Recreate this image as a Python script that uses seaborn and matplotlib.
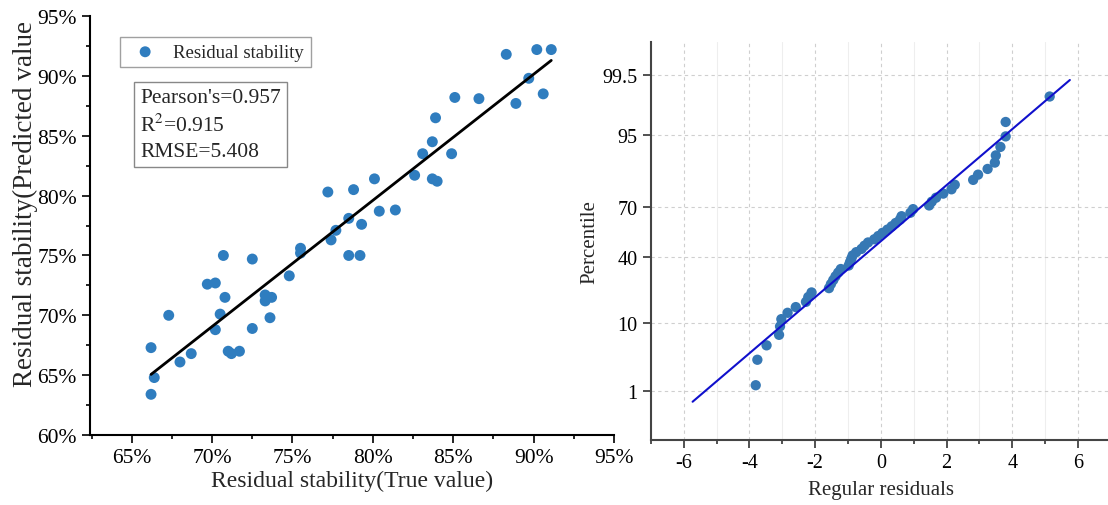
import numpy as np
import pandas as pd
import matplotlib
matplotlib.use("Agg")
import matplotlib.pyplot as plt
import seaborn as sns
from matplotlib.ticker import MultipleLocator, FuncFormatter
from statistics import NormalDist

# Left panel: true vs predicted residual stability (%)
true_vals = [88.3, 90.2, 91.1, 89.7, 90.6, 88.9, 85.1, 86.6, 83.9, 83.7,
             83.1, 84.9, 82.6, 83.7, 84.0, 80.1, 77.2, 78.8, 80.4, 81.4,
             78.5, 79.3, 77.7, 77.4, 78.5, 79.2, 75.5, 75.5, 74.8, 70.7,
             72.5, 69.7, 70.2, 70.8, 73.3, 73.3, 73.7, 73.6, 70.5, 70.2,
             72.5, 67.3, 66.2, 68.0, 68.7, 71.0, 71.2, 71.7, 66.4, 66.2]
pred_vals = [91.8, 92.2, 92.2, 89.8, 88.5, 87.7, 88.2, 88.1, 86.5, 84.5,
             83.5, 83.5, 81.7, 81.4, 81.2, 81.4, 80.3, 80.5, 78.7, 78.8,
             78.1, 77.6, 77.1, 76.3, 75.0, 75.0, 75.6, 75.2, 73.3, 75.0,
             74.7, 72.6, 72.7, 71.5, 71.7, 71.2, 71.5, 69.8, 70.1, 68.8,
             68.9, 70.0, 67.3, 66.1, 66.8, 67.0, 66.8, 67.0, 64.8, 63.4]
stats_lines = ["Pearson's=0.957", "R$^{2}$=0.915", "RMSE=5.408"]

# Right panel: regular residuals (sorted)
residuals = [-3.81, -3.76, -3.48, -3.10, -3.07, -3.03, -2.84, -2.59, -2.28, -2.21,
             -2.11, -1.58, -1.52, -1.45, -1.38, -1.30, -1.22, -0.98, -0.94, -0.90,
             -0.86, -0.75, -0.59, -0.50, -0.39, -0.20, -0.08, 0.05, 0.20, 0.33,
             0.45, 0.58, 0.63, 0.90, 0.98, 1.47, 1.55, 1.68, 1.90, 2.15,
             2.25, 2.81, 2.96, 3.25, 3.47, 3.50, 3.64, 3.80, 3.80, 5.14]
pct_ticks = [1, 10, 40, 70, 95, 99.5]

sns.set_theme(style="ticks")
plt.rcParams['font.family'] = ['Liberation Serif', 'DejaVu Serif']
plt.rcParams['mathtext.fontset'] = 'stix'
plt.rcParams['axes.unicode_minus'] = False

fig = plt.figure(figsize=(11.08, 5.06), dpi=100)
ax1 = fig.add_axes([0.0812, 0.1383, 0.4729, 0.828])
ax2 = fig.add_axes([0.5875, 0.129, 0.415, 0.786])

# ---- left: scatter + linear fit
df = pd.DataFrame({'true': true_vals, 'pred': pred_vals})
sns.scatterplot(data=df, x='true', y='pred', ax=ax1, color='#2f7dbf', s=62,
                edgecolor='none', label='Residual stability', zorder=2)
sns.regplot(data=df, x='true', y='pred', ax=ax1, scatter=False, ci=None,
            truncate=True, line_kws=dict(color='black', lw=2, zorder=3))
ax1.set_xlim(62.4, 95)
ax1.set_ylim(60, 95)
ax1.xaxis.set_major_locator(MultipleLocator(5))
ax1.xaxis.set_minor_locator(MultipleLocator(2.5))
ax1.yaxis.set_major_locator(MultipleLocator(5))
ax1.yaxis.set_minor_locator(MultipleLocator(2.5))
pct_fmt = FuncFormatter(lambda v, p: f"{v:.0f}%")
ax1.xaxis.set_major_formatter(pct_fmt)
ax1.yaxis.set_major_formatter(pct_fmt)
ax1.set_xticks([65, 70, 75, 80, 85, 90, 95])
ax1.tick_params(axis='both', which='major', length=6, width=1.2, labelsize=15.5,
                color='black', labelcolor='black')
ax1.tick_params(axis='both', which='minor', length=3, width=1.2, color='black')
for side in ['top', 'right']:
    ax1.spines[side].set_visible(False)
for side in ['left', 'bottom']:
    ax1.spines[side].set_color('black')
    ax1.spines[side].set_linewidth(1.5)
ax1.set_xlabel('Residual stability(True value)', fontsize=17, labelpad=2)
ax1.set_ylabel('Residual stability(Predicted value', fontsize=19.5)
ax1.yaxis.set_label_coords(-0.1, 0.554)

leg = ax1.legend(loc='upper left', bbox_to_anchor=(0.057, 0.95), fontsize=13.5,
                 frameon=True, fancybox=False, borderpad=0.35, handletextpad=0.5,
                 markerscale=1.0, borderaxespad=0)
leg.get_frame().set_edgecolor('#888888')
leg.get_frame().set_linewidth(1.0)

ax1.text(0.0955, 0.828, "\n".join(stats_lines), transform=ax1.transAxes,
         ha='left', va='top', fontsize=15.5, linespacing=1.4,
         bbox=dict(boxstyle='square,pad=0.3', fc='white', ec='#888888', lw=1.0))

# ---- right: normal probability plot of residuals
nd = NormalDist()
n = len(residuals)
res = np.sort(np.array(residuals))
ranks = np.arange(1, n + 1)
zpos = [nd.inv_cdf((r - 0.375) / (n + 0.25)) for r in ranks]
qq = pd.DataFrame({'resid': res, 'z': zpos})

mu, sd = res.mean(), res.std(ddof=1)
line_df = pd.DataFrame({'z': [-2.5, 2.5]})
line_df['resid'] = mu + sd * line_df['z']

ax2.set_axisbelow(True)
ax2.grid(True, which='major', axis='both', color='#cfcfcf', lw=0.8, ls=(0, (3, 3)))
ax2.grid(True, which='minor', axis='x', color='#eeeeee', lw=0.8)
sns.lineplot(data=line_df, x='resid', y='z', ax=ax2, color='#1010cc', lw=1.5,
             zorder=3, sort=False)
sns.scatterplot(data=qq, x='resid', y='z', ax=ax2, color='#3678b4', s=55,
                edgecolor='none', zorder=2)
ax2.set_xlim(-7, 7)
ax2.set_ylim(nd.inv_cdf(0.001), nd.inv_cdf(0.999))
ax2.set_xticks([-6, -4, -2, 0, 2, 4, 6])
ax2.xaxis.set_minor_locator(MultipleLocator(1))
ax2.set_yticks([nd.inv_cdf(p / 100) for p in pct_ticks])
ax2.set_yticklabels([f"{p:g}" for p in pct_ticks])
ax2.tick_params(axis='both', which='major', length=6, width=1.2, labelsize=14.5,
                color='#333333', labelcolor='black')
ax2.tick_params(axis='x', which='minor', length=3, width=1.2, color='#333333')
for side in ['top', 'right']:
    ax2.spines[side].set_visible(False)
for side in ['left', 'bottom']:
    ax2.spines[side].set_color('#444444')
    ax2.spines[side].set_linewidth(1.5)
ax2.set_xlabel('Regular residuals', fontsize=15, labelpad=6)
ax2.set_ylabel('Percentile', fontsize=15, labelpad=2)

fig.savefig('out.png', dpi=100)
